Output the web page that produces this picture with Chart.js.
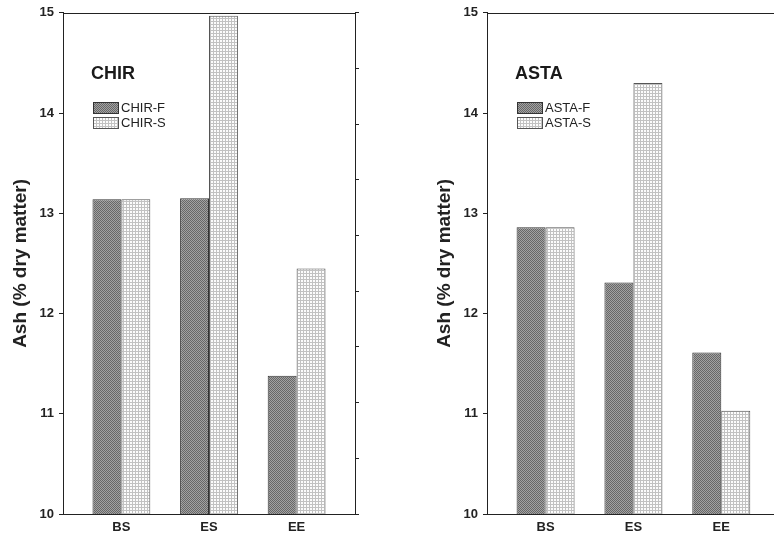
<!DOCTYPE html>
<html>
<head>
<meta charset="utf-8">
<script src="https://cdn.jsdelivr.net/npm/chart.js@4.4.1/dist/chart.umd.min.js"></script>
<style>
  body { margin: 0; background: #fff; }
  #wrap { position: relative; width: 774px; height: 537px; overflow: hidden; }
  #chir { position: absolute; left: 0; top: 0; }
  #asta { position: absolute; left: 424px; top: 0; }
</style>
</head>
<body>
<div id="wrap">
  <canvas id="chir" width="380" height="537"></canvas>
  <canvas id="asta" width="350" height="537"></canvas>
</div>
<script>
const categories = ["BS", "ES", "EE"]
const chirF = [13.14, 13.15, 11.38]
const chirS = [13.14, 14.97, 12.45]
const astaF = [12.86, 12.31, 11.61]
const astaS = [12.86, 14.30, 11.03]
const yMin = 10
const yMax = 15

Chart.defaults.font.family = '"Liberation Sans", Arial, sans-serif'
Chart.defaults.color = "#222"

// small tiled fills that mimic the hatched bars
function makePattern(kind) {
  const c = document.createElement("canvas")
  const g = c.getContext("2d")
  if (kind === "dark") {
    c.width = 2; c.height = 2
    g.fillStyle = "#a2a2a2"
    g.fillRect(0, 0, 2, 2)
    g.fillStyle = "#676767"
    g.fillRect(0, 0, 1, 1)
    g.fillRect(1, 1, 1, 1)
  } else {
    c.width = 3; c.height = 3
    g.fillStyle = "#fcfcfc"
    g.fillRect(0, 0, 3, 3)
    g.fillStyle = "#c2c2c2"
    g.fillRect(0, 0, 3, 1)
    g.fillRect(0, 0, 1, 3)
  }
  return g.createPattern(c, "repeat")
}

const panelPlugin = {
  id: "panel",
  afterDraw(chart, args, opts) {
    const { ctx, chartArea: a } = chart
    ctx.save()
    // top frame line
    ctx.strokeStyle = "#222"
    ctx.lineWidth = 1
    ctx.beginPath()
    ctx.moveTo(a.left, Math.round(a.top) + 0.5)
    ctx.lineTo(opts.toEdge ? chart.width : a.right, Math.round(a.top) + 0.5)
    ctx.stroke()

    // panel title
    ctx.textBaseline = "middle"
    ctx.fillStyle = "#1a1a1a"
    ctx.font = 'bold 18px "Liberation Sans", Arial, sans-serif'
    ctx.fillText(opts.title, a.left + 28, a.top + 61)

    // legend
    ctx.font = '13px "Liberation Sans", Arial, sans-serif'
    chart.data.datasets.forEach((ds, i) => {
      const y = Math.round(a.top + 89 + i * 15)
      ctx.fillStyle = ds.backgroundColor
      ctx.fillRect(a.left + 30, y, 25, 11)
      ctx.strokeStyle = ds.borderColor
      ctx.strokeRect(a.left + 30.5, y + 0.5, 25, 11)
      ctx.fillStyle = "#222"
      ctx.fillText(ds.label, a.left + 58, y + 6)
    })
    ctx.restore()
  }
}

function makeChart(id, name, fVals, sVals, xMax, rightAxis) {
  const dark = makePattern("dark")
  const light = makePattern("light")
  const scales = {
    x: {
      type: "linear",
      offset: false,
      min: 1 / 3,
      max: xMax,
      afterBuildTicks: s => { s.ticks = categories.map((c, i) => ({ value: i + 1 })) },
      afterFit: s => { s.height = 23 },
      ticks: {
        callback: v => categories[Math.round(v) - 1],
        font: { size: 13, weight: "bold" },
        padding: 6,
        maxRotation: 0
      },
      grid: { display: false, drawTicks: false },
      border: { color: "#222" }
    },
    y: {
      min: yMin,
      max: yMax,
      afterFit: s => { s.width = 63 },
      ticks: { stepSize: 1, font: { size: 13, weight: "bold" }, padding: 5 },
      grid: { drawOnChartArea: false, tickLength: 4, color: "#222" },
      border: { color: "#222" },
      title: {
        display: true,
        text: "Ash (% dry matter)",
        font: { size: 19, weight: "bold" },
        padding: 9
      }
    }
  }
  if (rightAxis) {
    scales.y2 = {
      position: "right",
      min: 0,
      max: 9,
      afterFit: s => { s.width = 25 },
      ticks: { stepSize: 1, callback: () => "" },
      grid: { drawOnChartArea: false, tickLength: 4, color: "#222" },
      border: { color: "#222" }
    }
  }
  return new Chart(document.getElementById(id), {
    type: "bar",
    data: {
      datasets: [
        {
          label: name + "-F",
          data: categories.map((c, i) => ({ x: i + 1, y: fVals[i] })),
          backgroundColor: dark,
          borderColor: "#333",
          borderWidth: 1,
          categoryPercentage: 0.66,
          barPercentage: 1
        },
        {
          label: name + "-S",
          data: categories.map((c, i) => ({ x: i + 1, y: sVals[i] })),
          backgroundColor: light,
          borderColor: "#555",
          borderWidth: 1,
          categoryPercentage: 0.66,
          barPercentage: 1
        }
      ]
    },
    options: {
      responsive: false,
      animation: false,
      layout: { padding: { top: 12, left: 0, right: 0, bottom: 0 } },
      plugins: {
        legend: { display: false },
        tooltip: { enabled: false },
        panel: { title: name, toEdge: !rightAxis }
      },
      scales
    },
    plugins: [panelPlugin]
  })
}

makeChart("chir", "CHIR", chirF, chirS, 11 / 3, true)
makeChart("asta", "ASTA", astaF, astaS, 3.6, false)
</script>
</body>
</html>
